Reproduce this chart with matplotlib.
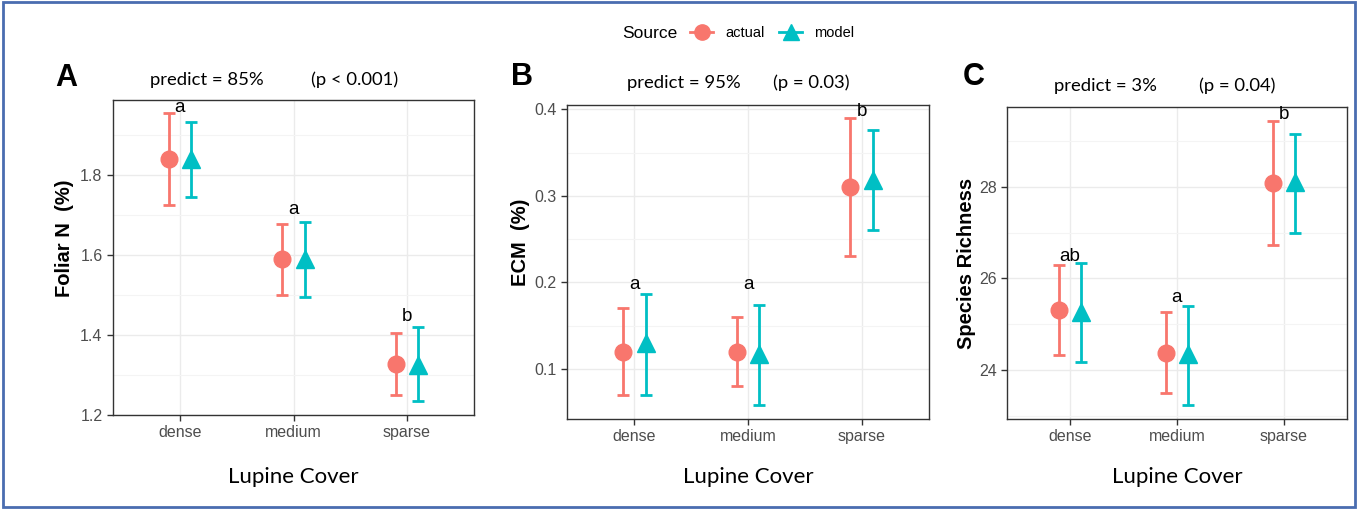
import numpy as np
import matplotlib
matplotlib.use("Agg")
import matplotlib.pyplot as plt
from matplotlib.lines import Line2D
from matplotlib.patches import Rectangle

W, H = 1358, 509

categories = ["dense", "medium", "sparse"]
sources = ["actual", "model"]
colors = {"actual": "#F8766D", "model": "#00BFC4"}
markers = {"actual": "o", "model": "^"}

# panel A: Foliar N (%)
foliar_actual = [1.84, 1.59, 1.327]
foliar_actual_lo = [1.725, 1.50, 1.249]
foliar_actual_hi = [1.955, 1.679, 1.405]
foliar_model = [1.84, 1.59, 1.325]
foliar_model_lo = [1.746, 1.496, 1.235]
foliar_model_hi = [1.932, 1.683, 1.42]
foliar_letters = ["a", "a", "b"]
foliar_letter_y = [1.97, 1.715, 1.446]

# panel B: ECM (%)
ecm_actual = [0.12, 0.12, 0.31]
ecm_actual_lo = [0.07, 0.08, 0.23]
ecm_actual_hi = [0.17, 0.16, 0.39]
ecm_model = [0.13, 0.117, 0.318]
ecm_model_lo = [0.07, 0.058, 0.26]
ecm_model_hi = [0.186, 0.174, 0.376]
ecm_letters = ["a", "a", "b"]
ecm_letter_y = [0.198, 0.198, 0.398]

# panel C: species richness
rich_actual = [25.31, 24.38, 28.09]
rich_actual_lo = [24.33, 23.5, 26.74]
rich_actual_hi = [26.30, 25.27, 29.44]
rich_model = [25.27, 24.35, 28.1]
rich_model_lo = [24.18, 23.23, 26.99]
rich_model_hi = [26.33, 25.40, 29.16]
rich_letters = ["ab", "a", "b"]
rich_letter_y = [26.47, 25.58, 29.57]

panels = [
    dict(tag="A", ylabel="Foliar N  (%)", pred="predict = 85%", p="(p < 0.001)",
         actual=(foliar_actual, foliar_actual_lo, foliar_actual_hi),
         model=(foliar_model, foliar_model_lo, foliar_model_hi),
         letters=foliar_letters, letter_y=foliar_letter_y,
         ylim=(1.2, 1.988), major=[1.2, 1.4, 1.6, 1.8], minor=[1.3, 1.5, 1.7, 1.9],
         fmt="{:.1f}", box=(113, 100, 474, 415),
         tag_xy=(66, 78), pred_xy=(207, 80), p_xy=(355, 80), ylab_xy=(65, 238)),
    dict(tag="B", ylabel="ECM  (%)", pred="predict = 95%", p="(p = 0.03)",
         actual=(ecm_actual, ecm_actual_lo, ecm_actual_hi),
         model=(ecm_model, ecm_model_lo, ecm_model_hi),
         letters=ecm_letters, letter_y=ecm_letter_y,
         ylim=(0.042, 0.405), major=[0.1, 0.2, 0.3, 0.4], minor=[0.15, 0.25, 0.35],
         fmt="{:.1f}", box=(567, 105, 929, 419),
         tag_xy=(522, 77), pred_xy=(684, 83), p_xy=(811, 83), ylab_xy=(520, 242)),
    dict(tag="C", ylabel="Species Richness", pred="predict = 3%", p="(p = 0.04)",
         actual=(rich_actual, rich_actual_lo, rich_actual_hi),
         model=(rich_model, rich_model_lo, rich_model_hi),
         letters=rich_letters, letter_y=rich_letter_y,
         ylim=(22.935, 29.74), major=[24, 26, 28], minor=[23, 25, 27, 29],
         fmt="{:.0f}", box=(1007, 107, 1347, 419),
         tag_xy=(974, 77), pred_xy=(1106, 86), p_xy=(1237, 86), ylab_xy=(966, 263)),
]

fig = plt.figure(figsize=(W / 100, H / 100), dpi=100)


def px(x, y):
    return x / W, 1 - y / H


x = np.arange(1, len(categories) + 1)
offsets = {"actual": -0.1, "model": 0.1}

for pn in panels:
    l, t, r, b = pn["box"]
    ax = fig.add_axes([l / W, 1 - b / H, (r - l) / W, (b - t) / H])
    ax.set_facecolor("white")
    for s in sources:
        mid, lo, hi = pn[s]
        mid = np.array(mid); lo = np.array(lo); hi = np.array(hi)
        ax.errorbar(x + offsets[s], mid, yerr=[mid - lo, hi - mid], fmt=markers[s],
                    color=colors[s], ms=12 if s == "actual" else 13, elinewidth=2,
                    capsize=4, capthick=2, zorder=3)
    for xi, lt, ly in zip(x, pn["letters"], pn["letter_y"]):
        ax.text(xi, ly, lt, ha="center", va="center", fontsize=13.5,
                family="Liberation Sans", zorder=4)
    ax.set_xlim(0.41, 3.59)
    ax.set_ylim(*pn["ylim"])
    ax.set_xticks(x)
    ax.set_xticklabels(categories)
    ax.set_yticks(pn["major"])
    ax.set_yticklabels([pn["fmt"].format(v) for v in pn["major"]])
    ax.set_yticks(pn["minor"], minor=True)
    ax.grid(True, which="major", color="#EBEBEB", lw=1.0, zorder=0)
    ax.grid(True, which="minor", axis="y", color="#F4F4F4", lw=0.8, zorder=0)
    ax.tick_params(axis="x", which="minor", bottom=False)
    ax.tick_params(axis="y", which="minor", left=False)
    ax.tick_params(which="major", length=4, width=1, color="#333333",
                   labelsize=11.5, labelcolor="#4D4D4D")
    for lab in ax.get_xticklabels() + ax.get_yticklabels():
        lab.set_family("Liberation Sans")
    for sp in ax.spines.values():
        sp.set_color("#333333")
        sp.set_linewidth(1.0)
    ax.set_axisbelow(True)

    fig.text(*px(*pn["tag_xy"]), pn["tag"], fontsize=22, fontweight="bold",
             family="Liberation Sans", ha="center", va="center")
    fig.text(*px(*pn["pred_xy"]), pn["pred"], fontsize=13.3, family="Lato",
             ha="center", va="center")
    fig.text(*px(*pn["p_xy"]), pn["p"], fontsize=13.3, family="Lato",
             ha="center", va="center")
    fig.text(*px(*pn["ylab_xy"]), pn["ylabel"], fontsize=14.5, fontweight="bold",
             family="Liberation Sans", rotation=90, ha="center", va="center")
    fig.text(*px((l + r) / 2, 477), "Lupine Cover", fontsize=16, family="Lato",
             ha="center", va="center")

# legend
fig.text(*px(650, 33), "Source", fontsize=12.5, family="Liberation Sans",
         ha="center", va="center")
handles = [Line2D([0], [0], color=colors[s], marker=markers[s], ms=11, lw=2)
           for s in sources]
fig.legend(handles, sources, loc="center", bbox_to_anchor=px(772, 33), ncol=2,
           frameon=False, handlelength=1.6, columnspacing=1.0, handletextpad=0.8,
           prop={"family": "Liberation Sans", "size": 10.5})

# outer blue frame
fig.patches.append(Rectangle((0.002, 0.004), 0.996, 0.992, transform=fig.transFigure,
                             fill=False, edgecolor="#4A6DB0", lw=2))

fig.savefig("out.png", dpi=100)
